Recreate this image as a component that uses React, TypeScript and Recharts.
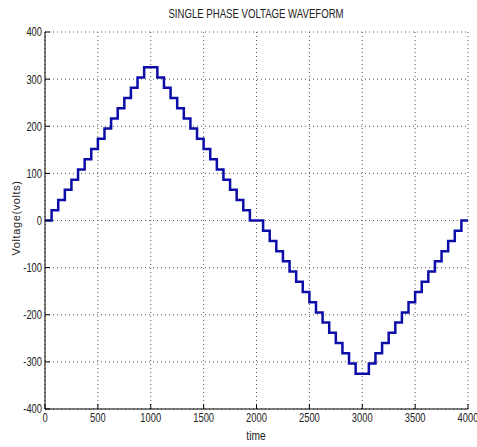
import React from 'react';
import { LineChart, Line, XAxis, YAxis, CartesianGrid } from 'recharts';

const timeValues = [
  0, 62.5, 125, 187.5, 250, 312.5, 375, 437.5, 500, 562.5, 625, 687.5, 750, 812.5, 875, 937.5,
  1000, 1062.5, 1125, 1187.5, 1250, 1312.5, 1375, 1437.5, 1500, 1562.5, 1625, 1687.5, 1750, 1812.5, 1875, 1937.5,
  2000, 2062.5, 2125, 2187.5, 2250, 2312.5, 2375, 2437.5, 2500, 2562.5, 2625, 2687.5, 2750, 2812.5, 2875, 2937.5,
  3000, 3062.5, 3125, 3187.5, 3250, 3312.5, 3375, 3437.5, 3500, 3562.5, 3625, 3687.5, 3750, 3812.5, 3875, 3937.5,
  4000,
];

const voltageValues = [
  0, 21.7, 43.3, 65, 86.7, 108.3, 130, 151.7, 173.3, 195, 216.7, 238.3, 260, 281.7, 303.3, 325,
  325, 303.3, 281.7, 260, 238.3, 216.7, 195, 173.3, 151.7, 130, 108.3, 86.7, 65, 43.3, 21.7, 0,
  0, -21.7, -43.3, -65, -86.7, -108.3, -130, -151.7, -173.3, -195, -216.7, -238.3, -260, -281.7, -303.3, -325,
  -325, -303.3, -281.7, -260, -238.3, -216.7, -195, -173.3, -151.7, -130, -108.3, -86.7, -65, -43.3, -21.7, 0,
  0,
];

const xTicks = [0, 500, 1000, 1500, 2000, 2500, 3000, 3500, 4000];
const yTicks = [-400, -300, -200, -100, 0, 100, 200, 300, 400];

const title = 'SINGLE PHASE VOLTAGE WAVEFORM';
const xLabel = 'time';
const yLabel = 'Voltage(volts)';

const data = timeValues.map((t, i) => ({ t, v: voltageValues[i] }));

const font = '"Liberation Sans", Arial, sans-serif';

const XTick = (props: any) => {
  const { x, y, payload } = props;
  return (
    <text
      transform={`translate(${x},${y}) scale(0.78,1)`}
      textAnchor="middle"
      dominantBaseline="hanging"
      fontSize={12}
      fontFamily={font}
      fill="#222"
    >
      {payload.value}
    </text>
  );
};

const YTick = (props: any) => {
  const { x, y, payload } = props;
  return (
    <text
      transform={`translate(${x},${y}) scale(0.78,1)`}
      textAnchor="end"
      dominantBaseline="central"
      fontSize={12}
      fontFamily={font}
      fill="#222"
    >
      {payload.value}
    </text>
  );
};

export default function App() {
  return (
    <div style={{ position: 'absolute', left: 0, top: 0, width: 477, height: 447, background: '#fff' }}>
      <LineChart
        width={477}
        height={447}
        data={data}
        margin={{ top: 32, right: 9, bottom: 10, left: 10 }}
      >
        <CartesianGrid stroke="#555" strokeDasharray="1 3" />
        <XAxis
          dataKey="t"
          type="number"
          domain={[0, 4000]}
          ticks={xTicks}
          interval={0}
          height={28}
          tickSize={-5}
          tickMargin={9}
          tick={<XTick />}
          axisLine={{ stroke: '#000' }}
          tickLine={{ stroke: '#000' }}
        />
        <XAxis
          xAxisId="top"
          orientation="top"
          type="number"
          domain={[0, 4000]}
          ticks={xTicks}
          interval={0}
          height={0}
          tickSize={-5}
          tickFormatter={() => ''}
          axisLine={{ stroke: '#000' }}
          tickLine={{ stroke: '#000' }}
        />
        <YAxis
          type="number"
          domain={[-400, 400]}
          ticks={yTicks}
          interval={0}
          width={35}
          tickSize={-5}
          tickMargin={8}
          tick={<YTick />}
          axisLine={{ stroke: '#000' }}
          tickLine={{ stroke: '#000' }}
        />
        <YAxis
          yAxisId="right"
          orientation="right"
          type="number"
          domain={[-400, 400]}
          ticks={yTicks}
          interval={0}
          width={0}
          tickSize={-5}
          tickFormatter={() => ''}
          axisLine={{ stroke: '#000' }}
          tickLine={{ stroke: '#000' }}
        />
        <Line
          type="stepAfter"
          dataKey="v"
          stroke="#0c0ca8"
          strokeWidth={2.5}
          dot={false}
          isAnimationActive={false}
        />
      </LineChart>
      <div
        style={{
          position: 'absolute', left: 256, top: 7, transform: 'translateX(-50%) scaleX(0.8)',
          fontFamily: font, fontSize: 12, color: '#222', whiteSpace: 'nowrap',
        }}
      >
        {title}
      </div>
      <div
        style={{
          position: 'absolute', left: 256, top: 429, transform: 'translateX(-50%) scaleX(0.85)',
          fontFamily: font, fontSize: 12, color: '#222', whiteSpace: 'nowrap',
        }}
      >
        {xLabel}
      </div>
      <div
        style={{
          position: 'absolute', left: 16, top: 218, transform: 'translate(-50%, -50%) rotate(-90deg)',
          fontFamily: font, fontSize: 11, color: '#222', whiteSpace: 'nowrap',
          letterSpacing: 0.6,
        }}
      >
        {yLabel}
      </div>
    </div>
  );
}
